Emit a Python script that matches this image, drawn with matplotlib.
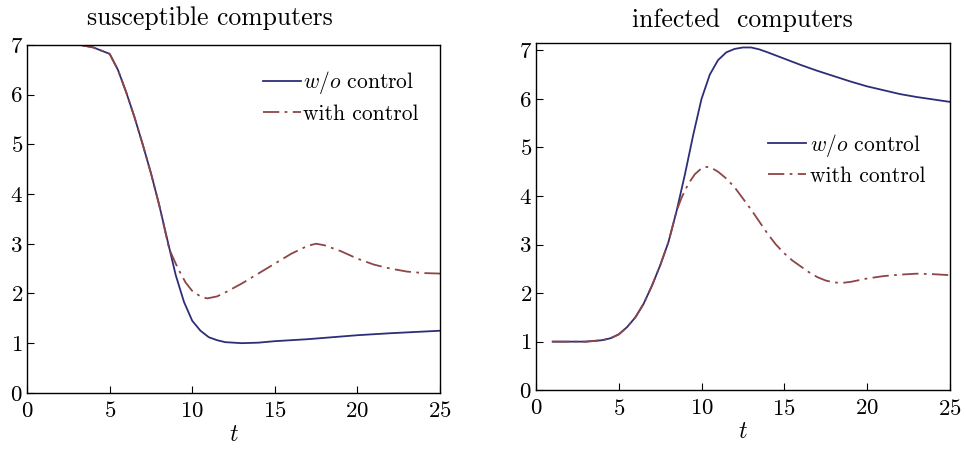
import matplotlib
matplotlib.use("Agg")
import matplotlib.pyplot as plt

plt.rcParams['font.family'] = ['cmr10', 'DejaVu Serif']
plt.rcParams['mathtext.fontset'] = 'cm'
plt.rcParams['axes.formatter.use_mathtext'] = True

# Susceptible computers
t_s_wo = [3.2, 4, 5, 5.5, 6, 6.5, 7, 7.5, 8, 8.5, 9, 9.5, 10, 10.5, 11, 11.5, 12, 13, 14, 15, 17, 20, 22, 25]
s_wo = [7.0, 6.95, 6.82, 6.5, 6.05, 5.55, 5.0, 4.42, 3.78, 3.07, 2.37, 1.83, 1.45, 1.25, 1.12, 1.06, 1.02, 1.0, 1.01, 1.04, 1.08, 1.16, 1.2, 1.25]
t_s_w = [3.2, 4, 5, 5.5, 6, 6.5, 7, 7.5, 8, 8.6, 9, 9.3, 9.6, 10, 10.5, 10.9, 11.5, 12, 13, 14, 15, 16, 17, 17.5, 18, 19, 20, 21, 22, 23, 24, 25]
s_w = [7.0, 6.95, 6.82, 6.5, 6.05, 5.55, 5.0, 4.42, 3.78, 2.9, 2.6, 2.4, 2.22, 2.05, 1.94, 1.9, 1.94, 2.02, 2.2, 2.4, 2.6, 2.8, 2.96, 3.0, 2.97, 2.85, 2.7, 2.58, 2.5, 2.44, 2.41, 2.4]

# Infected computers
t_i_wo = [1, 2, 3, 4, 4.5, 5, 5.5, 6, 6.5, 7, 7.5, 8, 8.5, 9, 9.5, 10, 10.5, 11, 11.5, 12, 12.5, 13, 13.5, 14, 15, 16, 17, 18, 19, 20, 21, 22, 23, 24, 25]
i_wo = [1.0, 1.0, 1.0, 1.03, 1.07, 1.15, 1.3, 1.5, 1.78, 2.15, 2.57, 3.05, 3.7, 4.45, 5.26, 6.0, 6.5, 6.8, 6.96, 7.03, 7.06, 7.06, 7.02, 6.96, 6.83, 6.7, 6.58, 6.47, 6.36, 6.26, 6.18, 6.1, 6.04, 5.99, 5.94]
t_i_w = [1, 2, 3, 4, 4.5, 5, 5.5, 6, 6.5, 7, 7.5, 8, 8.5, 8.8, 9.2, 9.6, 10, 10.3, 10.6, 11, 11.5, 12, 12.5, 13, 13.5, 14, 14.5, 15, 15.5, 16, 16.5, 17, 17.5, 18, 18.5, 19, 20, 21, 22, 23, 24, 25]
i_w = [1.0, 1.0, 1.0, 1.03, 1.07, 1.15, 1.3, 1.5, 1.78, 2.15, 2.57, 3.05, 3.7, 3.97, 4.25, 4.45, 4.57, 4.6, 4.58, 4.5, 4.36, 4.18, 3.95, 3.72, 3.47, 3.22, 3.0, 2.82, 2.67, 2.55, 2.43, 2.33, 2.26, 2.22, 2.21, 2.23, 2.3, 2.35, 2.38, 2.4, 2.39, 2.37]

blue = '#2e2e78'
red = '#8e4545'
dashdot = (0, (9, 3, 1.5, 3))

fig = plt.figure(figsize=(9.66, 4.49), dpi=100)
ax1 = fig.add_axes([0.028, 0.125, 0.4275, 0.775])
ax2 = fig.add_axes([0.555, 0.131, 0.428, 0.773])

def style(ax, ymax):
    ax.set_xlim(0, 25)
    ax.set_ylim(0, ymax)
    ax.set_xticks([0, 5, 10, 15, 20, 25])
    ax.set_yticks([0, 1, 2, 3, 4, 5, 6, 7])
    ax.tick_params(direction='in', top=False, right=False, length=5, labelsize=16.5, width=0.8)
    ax.tick_params(axis='x', pad=6)
    ax.tick_params(axis='y', pad=3)
    for sp in ax.spines.values():
        sp.set_linewidth(1.0)
    ax.set_xlabel('$t$', fontsize=17, labelpad=2)

ax1.plot(t_s_wo, s_wo, color=blue, lw=1.3, label='$w/o$ control')
ax1.plot(t_s_w, s_w, color=red, lw=1.3, linestyle=dashdot, label='with control')
style(ax1, 7)
ax1.set_title('susceptible computers', fontsize=18.5, pad=14.5, x=0.443)
ax1.legend(loc='upper right', bbox_to_anchor=(0.995, 0.985), frameon=False, fontsize=15.5,
           handlelength=1.75, handletextpad=0.1, labelspacing=0.35)

ax2.plot(t_i_wo, i_wo, color=blue, lw=1.3, label='$w/o$ control')
ax2.plot(t_i_w, i_w, color=red, lw=1.3, linestyle=dashdot, label='with control')
style(ax2, 7.15)
ax2.set_title('infected  computers', fontsize=18.5, pad=11.5)
ax2.legend(loc='upper left', bbox_to_anchor=(0.515, 0.80), frameon=False, fontsize=15.5,
           handlelength=1.75, handletextpad=0.2, labelspacing=0.35)

fig.savefig('out.png', dpi=100)
